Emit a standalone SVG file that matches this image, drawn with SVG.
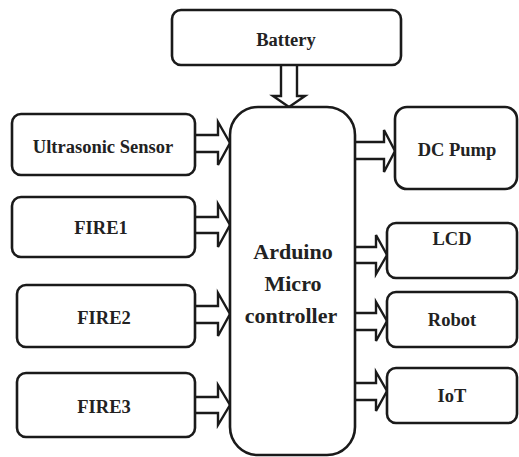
<svg xmlns="http://www.w3.org/2000/svg" width="519" height="457" viewBox="0 0 519 457">
<style>
.box{fill:#fff;stroke:#1a1a1a;stroke-width:2.6}
.arr{fill:#fff;stroke:#1a1a1a;stroke-width:2.4;stroke-linejoin:miter}
.t{font-weight:bold;fill:#222;text-anchor:middle}
.lbl{font-size:18.5px}
.big{font-size:22px}
</style>
<rect width="519" height="457" fill="#fff"/>
<g id="connectors">
<path class="arr" d="M281,65 V96 H273 L289,107 L305,96 H297 V65"/>
<path class="arr" d="M195,135 H218 V122 L230,143 L218,165 V152 H195"/>
<path class="arr" d="M195,217 H218 V204 L230,225 L218,247 V233 H195"/>
<path class="arr" d="M195,306 H218 V293 L230,314 L218,336 V323 H195"/>
<path class="arr" d="M195,397 H218 V385 L230,405 L218,425 V413 H195"/>
<path class="arr" d="M355,142 H384 V130 L395,151 L384,172 V159 H355"/>
<path class="arr" d="M355,247 H376 V235 L387,255 L376,274 V263 H355"/>
<path class="arr" d="M355,313 H376 V302 L387,321 L376,341 V330 H355"/>
<path class="arr" d="M355,383 H376 V372 L387,391 L376,411 V400 H355"/>
</g>
<g font-family="'Liberation Serif', 'DejaVu Serif', serif">
<g id="battery"><rect class="box" x="172" y="10" width="229" height="55" rx="9"/><text class="t lbl" x="286" y="46">Battery</text></g>
<g id="arduino"><rect class="box" x="230" y="107" width="125" height="348" rx="28"/>
<text class="t big" x="293" y="259">Arduino</text><text class="t big" x="293" y="291">Micro</text><text class="t big" x="291" y="323">controller</text></g>
<g id="ultrasonic"><rect class="box" x="12" y="114" width="183" height="61" rx="9"/><text class="t lbl" x="103" y="153">Ultrasonic Sensor</text></g>
<g id="fire1"><rect class="box" x="12" y="197" width="183" height="60" rx="9"/><text class="t lbl" x="101" y="234">FIRE1</text></g>
<g id="fire2"><rect class="box" x="17" y="285" width="178" height="62" rx="9"/><text class="t lbl" x="104" y="324">FIRE2</text></g>
<g id="fire3"><rect class="box" x="17" y="373" width="178" height="64" rx="9"/><text class="t lbl" x="104" y="413">FIRE3</text></g>
<g id="dcpump"><rect class="box" x="395" y="107" width="122" height="82" rx="12"/><text class="t lbl" x="457" y="156">DC Pump</text></g>
<g id="lcd"><rect class="box" x="387" y="223" width="130" height="55" rx="9"/><text class="t lbl" x="452" y="245">LCD</text></g>
<g id="robot"><rect class="box" x="387" y="292" width="130" height="55" rx="9"/><text class="t lbl" x="452" y="326">Robot</text></g>
<g id="iot"><rect class="box" x="387" y="368" width="130" height="55" rx="9"/><text class="t lbl" x="452" y="402">IoT</text></g>
</g>
</svg>
